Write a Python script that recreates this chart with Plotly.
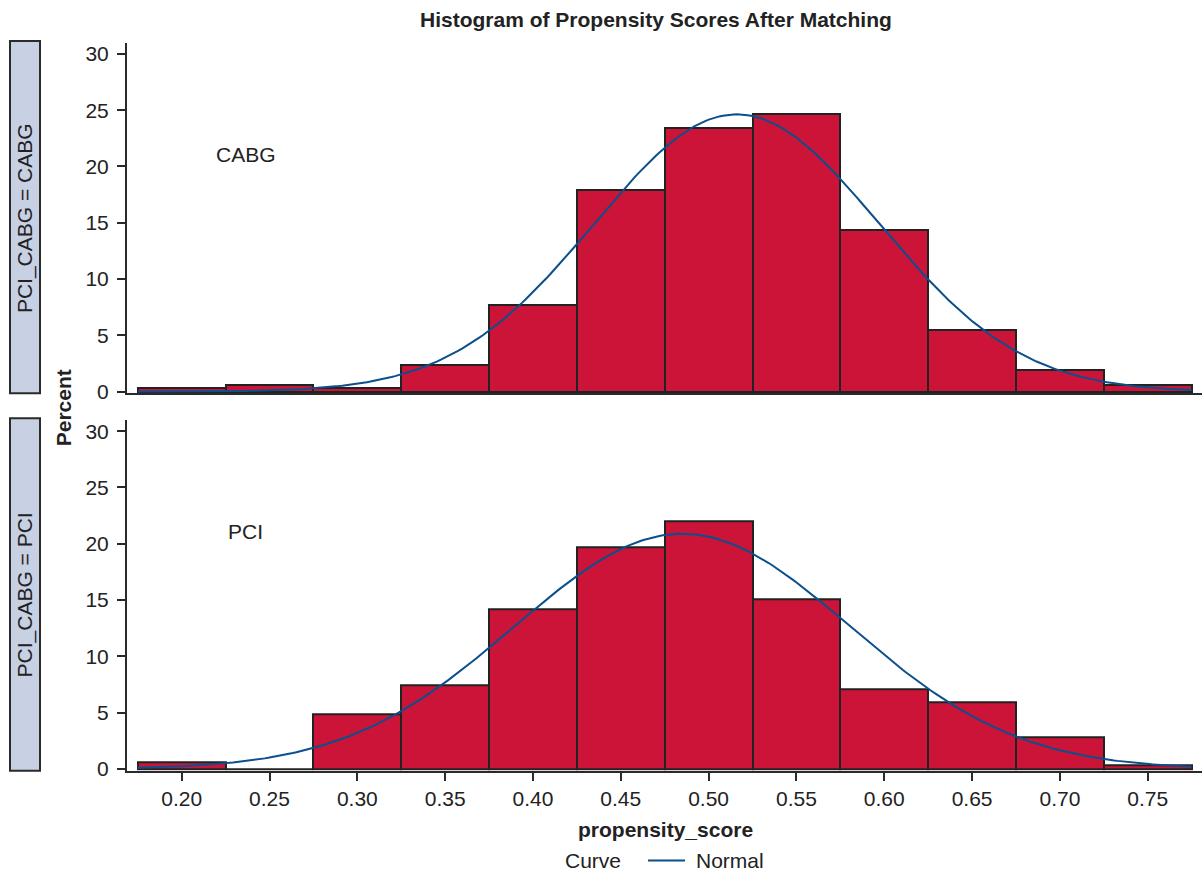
import numpy as np
import plotly.graph_objects as go

# Bin midpoints (bin width 0.05) and percentages per group
bin_mids = [0.20, 0.25, 0.30, 0.35, 0.40, 0.45, 0.50, 0.55, 0.60, 0.65, 0.70, 0.75]
bin_width = 0.05
pct_cabg = [0.3, 0.6, 0.3, 2.4, 7.7, 17.9, 23.4, 24.7, 14.4, 5.5, 1.9, 0.6]
pct_pci = [0.6, 0.0, 4.9, 7.4, 14.2, 19.7, 22.0, 15.1, 7.1, 5.9, 2.8, 0.3]

# Fitted normal parameters (mean, std) per group
normal_cabg = (0.516, 0.081)
normal_pci = (0.485, 0.0955)

group_labels = ["CABG", "PCI"]
strip_labels = ["PCI_CABG = CABG", "PCI_CABG = PCI"]
x_ticks = [0.20, 0.25, 0.30, 0.35, 0.40, 0.45, 0.50, 0.55, 0.60, 0.65, 0.70, 0.75]
y_ticks = [0, 5, 10, 15, 20, 25, 30]

W, H = 1202, 874
H_REF = 864.5  # vertical pixel scale used for layout placement
FONT = "Liberation Sans, Arial, Helvetica, sans-serif"
FS = 21
BAR = "#CC1439"
EDGE = "#222222"
CURVE = "#0B4F8C"
TXT = "#222222"
AXIS = "#2a2a2a"


def py(px):
    return 1 - px / H_REF


def px_x(px):
    return px / W


def tfont(size=FS):
    return dict(family=FONT, size=size, color=TXT)


fig = go.Figure()

panels = [
    (pct_cabg, normal_cabg, "x", "y", (42, 393)),
    (pct_pci, normal_pci, "x2", "y2", (420, 771)),
]

lo = bin_mids[0] - bin_width / 2
hi = bin_mids[-1] + bin_width / 2
xs = np.linspace(lo, hi, 300)

for i, (pct, (mu, sd), xa, ya, _) in enumerate(panels):
    fig.add_trace(go.Bar(
        x=bin_mids, y=pct, width=bin_width,
        marker=dict(color=BAR, line=dict(color=EDGE, width=2)),
        xaxis=xa, yaxis=ya, showlegend=False, hoverinfo="x+y",
    ))
    dens = 100 * bin_width * np.exp(-0.5 * ((xs - mu) / sd) ** 2) / (sd * np.sqrt(2 * np.pi))
    fig.add_trace(go.Scatter(
        x=xs, y=dens, mode="lines", line=dict(color=CURVE, width=2),
        name="Normal", xaxis=xa, yaxis=ya, showlegend=False,
    ))

x_range = [0.16886, 0.78091]
y_range = [-0.15, 30.97]

axis_common = dict(
    showline=True, linecolor=AXIS, linewidth=2, showgrid=False, zeroline=False,
    tickfont=tfont(), ticks="outside", ticklen=8, tickwidth=2, tickcolor=AXIS,
)

fig.update_layout(
    width=W, height=H, margin=dict(l=0, r=0, t=0, b=0),
    paper_bgcolor="white", plot_bgcolor="white", bargap=0, showlegend=False,
    font=dict(family=FONT, color=TXT),
    xaxis=dict(domain=[px_x(127), 1.0], range=x_range, anchor="y",
               showline=True, linecolor=AXIS, linewidth=2, showgrid=False,
               zeroline=False, showticklabels=False, ticks="", matches="x2"),
    yaxis=dict(domain=[py(393), py(42)], range=y_range, anchor="x",
               tickvals=y_ticks, ticklabelstandoff=4, **axis_common),
    xaxis2=dict(domain=[px_x(127), 1.0], range=x_range, anchor="y2",
                tickvals=x_ticks, tickformat=".2f", ticklabelstandoff=0, **axis_common),
    yaxis2=dict(domain=[py(771), py(420)], range=y_range, anchor="x2",
                tickvals=y_ticks, ticklabelstandoff=4, **axis_common),
)

ann = []
shapes = []
# Title and axis labels
ann.append(dict(text="<b>Histogram of Propensity Scores After Matching</b>",
                x=px_x(656), y=py(19), xref="paper", yref="paper", showarrow=False,
                font=tfont(), xanchor="center", yanchor="middle"))
ann.append(dict(text="<b>propensity_score</b>", x=px_x(665), y=py(830), xref="paper",
                yref="paper", showarrow=False, font=tfont(),
                xanchor="center", yanchor="middle"))
ann.append(dict(text="<b>Percent</b>", x=px_x(63), y=py(408), xref="paper", yref="paper",
                showarrow=False, textangle=-90, font=tfont(),
                xanchor="center", yanchor="middle"))

# Legend: "Curve  —— Normal"
ann.append(dict(text="Curve", x=px_x(623), y=py(861), xref="paper", yref="paper",
                showarrow=False, font=tfont(), xanchor="right", yanchor="middle"))
shapes.append(dict(type="line", xref="paper", yref="paper",
                   x0=px_x(648), x1=px_x(685), y0=py(861), y1=py(861),
                   line=dict(color=CURVE, width=2)))
ann.append(dict(text="Normal", x=px_x(694), y=py(861), xref="paper", yref="paper",
                showarrow=False, font=tfont(), xanchor="left", yanchor="middle"))

# Group labels inside panels and side strips
for (pct, _, xa, ya, (top, bot)), g, s in zip(panels, group_labels, strip_labels):
    ann.append(dict(text=g, x=0.2366, y=21.1, xref=xa, yref=ya, showarrow=False,
                    font=tfont(), xanchor="center", yanchor="middle"))
    shapes.append(dict(type="rect", xref="paper", yref="paper",
                       x0=px_x(10), x1=px_x(40), y0=py(bot), y1=py(top - 2),
                       fillcolor="#C8D0E4", line=dict(color=AXIS, width=2)))
    ann.append(dict(text=s, x=px_x(25), y=py((top + bot) / 2), xref="paper", yref="paper",
                    showarrow=False, textangle=-90, font=tfont(),
                    xanchor="center", yanchor="middle"))

fig.update_layout(annotations=ann, shapes=shapes)

fig.write_html("out.html")
